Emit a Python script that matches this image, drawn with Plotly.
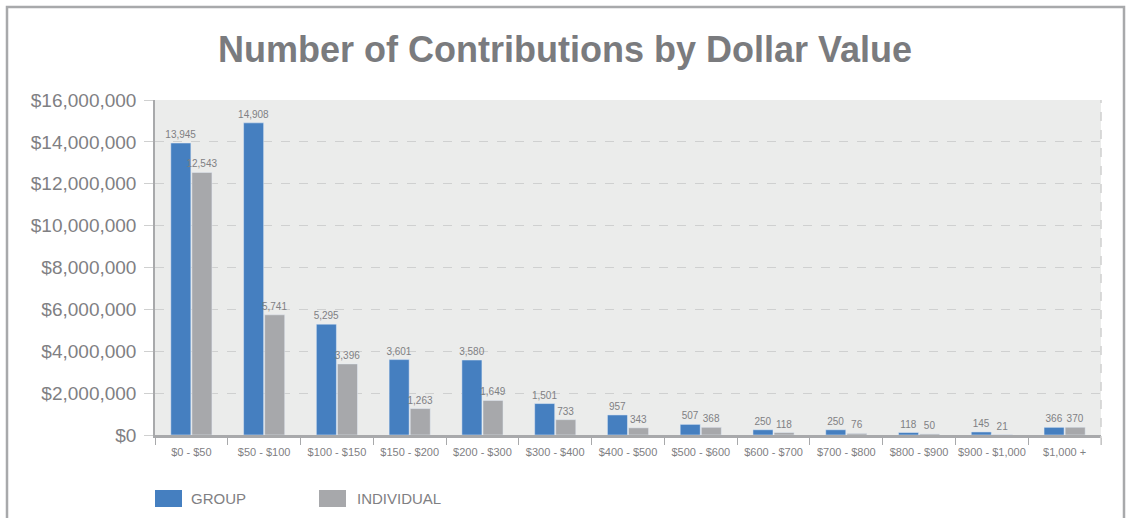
import plotly.graph_objects as go

categories = ["$0 - $50", "$50 - $100", "$100 - $150", "$150 - $200", "$200 - $300",
              "$300 - $400", "$400 - $500", "$500 - $600", "$600 - $700", "$700 - $800",
              "$800 - $900", "$900 - $1,000", "$1,000 +"]
group_values = [13945000, 14908000, 5295000, 3601000, 3580000, 1501000, 957000,
                507000, 250000, 250000, 118000, 145000, 366000]
individual_values = [12543000, 5741000, 3396000, 1263000, 1649000, 733000, 343000,
                     368000, 118000, 76000, 50000, 21000, 370000]
group_labels = ["13,945", "14,908", "5,295", "3,601", "3,580", "1,501", "957",
                "507", "250", "250", "118", "145", "366"]
individual_labels = ["12,543", "5,741", "3,396", "1,263", "1,649", "733", "343",
                     "368", "118", "76", "50", "21", "370"]

BLUE = "#457fc0"
GRAY = "#a7a8ab"
TEXT = "#7f8083"
FONT = "Liberation Sans, Arial, sans-serif"

fig = go.Figure()
fig.add_trace(go.Bar(name="GROUP", x=categories, y=group_values, marker_color=BLUE,
                     text=group_labels, textposition="outside", cliponaxis=False,
                     constraintext="none",
                     textfont=dict(size=10, color=TEXT, family=FONT), textangle=0))
fig.add_trace(go.Bar(name="INDIVIDUAL", x=categories, y=individual_values, marker_color=GRAY,
                     text=individual_labels, textposition="outside", cliponaxis=False,
                     constraintext="none",
                     textfont=dict(size=10, color=TEXT, family=FONT), textangle=0))

fig.update_layout(
    width=1130, height=518,
    margin=dict(l=155, r=29, t=100, b=83),
    paper_bgcolor="white",
    plot_bgcolor="#ebeceb",
    barmode="group",
    bargap=0.42,
    bargroupgap=0.05,
    showlegend=False,
    title=dict(text="<b>Number of Contributions by Dollar Value</b>",
               x=0.5, xanchor="center", y=0.905, yanchor="middle",
               font=dict(size=36, color="#7a7b7e", family="Liberation Sans, Arial, sans-serif")),
    font=dict(family=FONT, color=TEXT),
)

fig.update_yaxes(
    range=[0, 16000000], dtick=2000000,
    tickprefix="$", tickformat=",",
    tickfont=dict(size=19, color=TEXT, family=FONT),
    showgrid=True, gridcolor="#cfd0d0", griddash="dash", gridwidth=1.2,
    ticks="outside", ticklen=9, tickcolor="#cfd0d0", tickwidth=1.2,
    showline=True, linecolor="#a8a9ab", linewidth=1.5,
    zeroline=False, ticklabelstandoff=4,
)
fig.update_xaxes(
    tickfont=dict(size=11, color=TEXT, family=FONT), tickangle=0,
    ticks="outside", tickson="boundaries", ticklen=7, tickcolor="#a8a9ab", tickwidth=1,
    showline=True, linecolor="#a8a9ab", linewidth=2.5,
    showgrid=False, ticklabelstandoff=5,
)

# right dashed edge of plot area
fig.add_shape(type="line", xref="paper", yref="paper", x0=1, x1=1, y0=-0.03, y1=1,
              line=dict(color="#cfd0d0", width=1.5, dash="dash"))
# outer frame
fig.add_shape(type="rect", xref="paper", yref="paper",
              x0=-148/946, x1=(1124-155)/946, y0=-100/335, y1=(435-7)/335,
              line=dict(color="#a8a9ab", width=2.5), fillcolor="rgba(0,0,0,0)", layer="below")

# manual legend
for x0, x1, col, label, tx in [(155, 182, BLUE, "GROUP", 189), (319, 346, GRAY, "INDIVIDUAL", 355)]:
    fig.add_shape(type="rect", xref="paper", yref="paper",
                  x0=(x0 - 155) / 946, x1=(x1 - 155) / 946,
                  y0=(435 - 507) / 335, y1=(435 - 490) / 335,
                  line=dict(width=0), fillcolor=col)
    fig.add_annotation(xref="paper", yref="paper", x=(tx - 155) / 946, y=(435 - 498.5) / 335,
                       text=label, showarrow=False, xanchor="left", yanchor="middle",
                       font=dict(size=15, color=TEXT, family=FONT))

fig.write_html("out.html", config={"displayModeBar": False},
               post_script="document.body.style.margin='0';document.body.style.overflow='hidden';")
